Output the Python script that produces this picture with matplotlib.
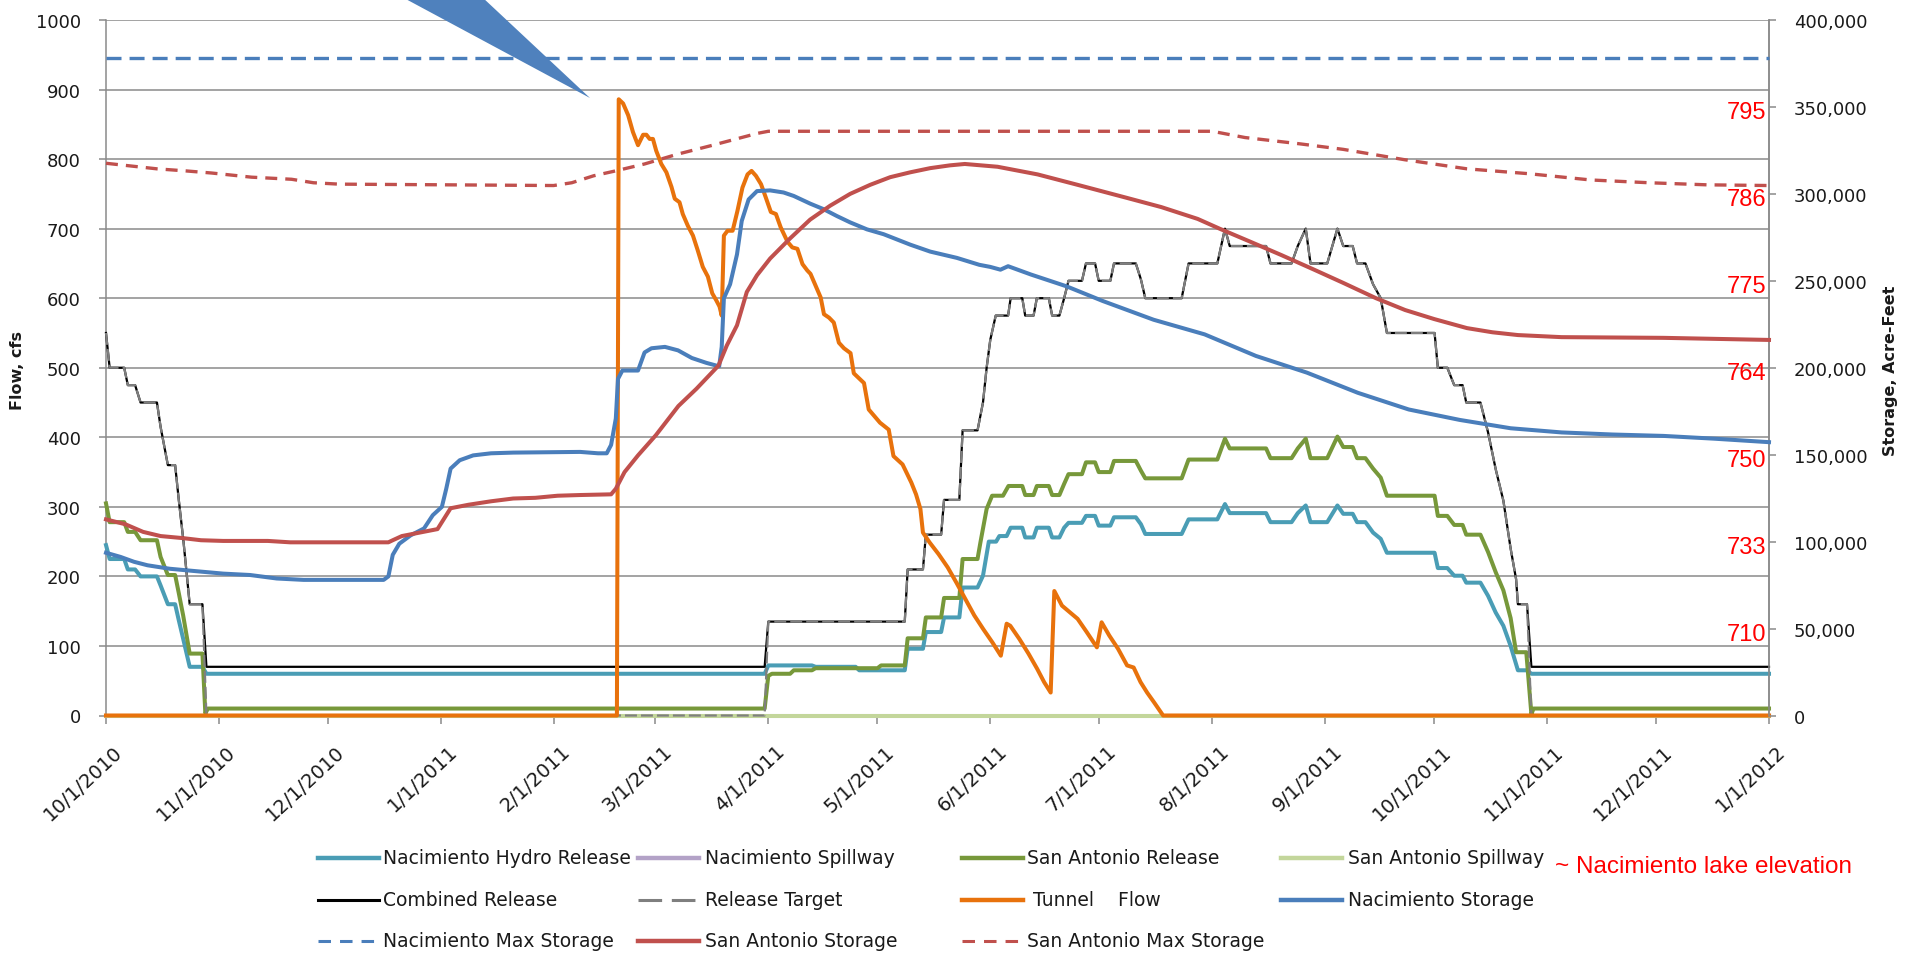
import pandas as pd
import matplotlib
matplotlib.use("Agg")
import matplotlib.pyplot as plt
from matplotlib.lines import Line2D
from matplotlib.patches import Polygon
from matplotlib.ticker import FuncFormatter, MultipleLocator
import matplotlib.transforms as mtransforms

plt.rcParams["lines.scale_dashes"] = False
plt.rcParams["font.family"] = ["DejaVu Sans"]

START = pd.Timestamp("2010-10-01")
END = pd.Timestamp("2012-01-01")

MONTH_LABELS = ["10/1/2010", "11/1/2010", "12/1/2010", "1/1/2011", "2/1/2011",
                "3/1/2011", "4/1/2011", "5/1/2011", "6/1/2011", "7/1/2011",
                "8/1/2011", "9/1/2011", "10/1/2011", "11/1/2011", "12/1/2011",
                "1/1/2012"]

# --- flows (cfs), vertices as (days since 10/1/2010, value) ---
NACI_HYDRO = [(0, 245), (1, 225), (5, 225), (6, 210), (8, 210), (9.5, 200), (14, 200), (15, 187),
              (17, 160), (19, 160), (20, 137), (21.4, 106), (23, 70), (26.5, 70), (27.6, 60),
              (181, 60), (182, 72), (194, 72), (195, 70), (206, 70), (207, 65), (219.5, 65),
              (220.3, 96), (224.5, 96), (225.3, 120), (229.5, 120), (230.3, 141), (234.5, 141),
              (235.4, 184), (239.5, 184), (241, 201), (242.6, 250), (244.6, 250), (245.5, 258),
              (247.5, 258), (248.6, 270), (251.8, 270), (252.6, 256), (254.9, 256), (255.8, 270),
              (259.1, 270), (260, 256), (262, 256), (263.3, 270), (264.5, 277), (268.2, 277),
              (269.3, 287), (271.8, 287), (272.8, 273), (276, 273), (277, 285), (283, 285),
              (284.4, 275), (285.6, 261), (295.6, 261), (297.5, 282), (305.4, 282), (307.5, 304),
              (308.8, 291), (318.8, 291), (320, 278), (325.8, 278), (327.5, 291), (329.7, 302),
              (331, 278), (335.6, 278), (338.4, 302), (340, 290), (342.6, 290), (343.8, 278),
              (346.1, 278), (348.2, 263), (350.3, 254), (352, 234), (365.1, 234), (366, 212),
              (368.6, 212), (370.5, 201), (372.8, 201), (373.8, 191), (377.7, 191), (379.8, 172),
              (381.9, 148), (384, 129), (386, 100), (388, 65), (390.5, 65), (391.7, 60), (457, 60)]

NACI_SPILL = [(0, 0), (457, 0)]

SA_RELEASE = [(0, 305), (1, 278), (5, 278), (6, 264), (8, 264), (9.5, 252), (14, 252), (15, 228),
              (17, 202), (19, 202), (20, 176), (21.2, 144), (23, 89), (26.5, 89), (27.3, 3),
              (28, 10), (181, 10), (182, 57), (183, 60), (188, 60), (189, 65), (194, 65),
              (195, 68), (212, 68), (213, 72), (219.5, 72), (220.3, 111), (224.5, 111),
              (225.3, 141), (229.5, 141), (230.3, 169), (234.5, 169), (235.4, 225), (239.5, 225),
              (240.3, 249), (242, 297), (243.5, 316), (246.5, 316), (248, 330), (251.8, 330),
              (252.6, 317), (254.9, 317), (255.8, 330), (259.1, 330), (260, 317), (262, 317),
              (263.3, 333), (264.5, 347), (268.2, 347), (269.3, 364), (271.8, 364), (272.8, 350),
              (276, 350), (277, 366), (283, 366), (284.4, 352), (285.6, 341), (295.6, 341),
              (297.5, 368), (305.4, 368), (307.5, 398), (308.8, 384), (318.8, 384), (320, 370),
              (325.8, 370), (327.5, 384), (329.7, 398), (331, 370), (335.6, 370), (338.4, 401),
              (340, 386), (342.6, 386), (343.8, 370), (346.1, 370), (348.2, 355), (350.3, 342),
              (352, 316), (365.1, 316), (366, 287), (368.6, 287), (370.5, 274), (372.8, 274),
              (373.8, 260), (377.7, 260), (379.8, 235), (381.9, 206), (384, 180), (386, 140),
              (387.5, 91), (390.3, 91), (391.7, 2), (392.3, 10), (457, 10)]

SA_SPILL = [(0, 0), (457, 0)]

COMBINED = [(0, 550), (1, 500), (5, 500), (6, 475), (8, 475), (9.5, 450), (14, 450), (15, 415),
            (17, 360), (19, 360), (20, 310), (21.3, 250), (23, 160), (26.5, 160), (27.6, 70),
            (181, 70), (182, 135), (219.5, 135), (220.3, 210), (224.5, 210), (225.3, 260),
            (229.5, 260), (230.3, 310), (234.5, 310), (235.4, 410), (239.5, 410), (241, 450),
            (242, 500), (243, 540), (244.5, 575), (247.9, 575), (248.6, 600), (251.8, 600),
            (252.6, 575), (254.9, 575), (255.8, 600), (259.1, 600), (260, 575), (262, 575),
            (263.3, 600), (264.5, 625), (268.2, 625), (269.3, 650), (271.8, 650), (272.8, 625),
            (276, 625), (277, 650), (283, 650), (284.4, 627), (285.6, 600), (295.6, 600),
            (297.5, 650), (305.4, 650), (307.5, 700), (308.8, 675), (318.8, 675), (320, 650),
            (325.8, 650), (327.5, 675), (329.7, 700), (331, 650), (335.6, 650), (338.4, 700),
            (340, 675), (342.6, 675), (343.8, 650), (346.1, 650), (348.2, 620), (350.3, 600),
            (352, 550), (365.1, 550), (366, 500), (368.6, 500), (370.5, 475), (372.8, 475),
            (373.8, 450), (377.7, 450), (379.8, 407), (381.9, 354), (384, 309), (386, 240),
            (387.5, 196), (388, 160), (390.5, 160), (391.7, 70), (457, 70)]

RELEASE_TARGET = [(0, 550), (1, 500), (5, 500), (6, 475), (8, 475), (9.5, 450), (14, 450),
                  (15, 415), (17, 360), (19, 360), (20, 310), (21.3, 250), (23, 160), (26.5, 160),
                  (27.6, 0), (181, 0), (182, 135), (219.5, 135), (220.3, 210), (224.5, 210),
                  (225.3, 260), (229.5, 260), (230.3, 310), (234.5, 310), (235.4, 410),
                  (239.5, 410), (241, 450), (242, 500), (243, 540), (244.5, 575), (247.9, 575),
                  (248.6, 600), (251.8, 600), (252.6, 575), (254.9, 575), (255.8, 600),
                  (259.1, 600), (260, 575), (262, 575), (263.3, 600), (264.5, 625), (268.2, 625),
                  (269.3, 650), (271.8, 650), (272.8, 625), (276, 625), (277, 650), (283, 650),
                  (284.4, 627), (285.6, 600), (295.6, 600), (297.5, 650), (305.4, 650),
                  (307.5, 700), (308.8, 675), (318.8, 675), (320, 650), (325.8, 650),
                  (327.5, 675), (329.7, 700), (331, 650), (335.6, 650), (338.4, 700), (340, 675),
                  (342.6, 675), (343.8, 650), (346.1, 650), (348.2, 620), (350.3, 600),
                  (352, 550), (365.1, 550), (366, 500), (368.6, 500), (370.5, 475),
                  (372.8, 475), (373.8, 450), (377.7, 450), (379.8, 407), (381.9, 354),
                  (384, 309), (386, 240), (387.5, 196), (388, 160), (390.5, 160), (391.7, 0),
                  (457, 0)]

TUNNEL = [(0, 0), (140.4, 0), (140.9, 886), (142.1, 880), (143.5, 863), (144.8, 839),
          (146.2, 820), (147.6, 835), (148.5, 835), (149.4, 829), (150.3, 829), (151.2, 812),
          (152.6, 793), (154, 781), (155.4, 760), (156.3, 743), (157.6, 738), (158.5, 721),
          (159.9, 704), (161.3, 690), (162.6, 669), (164, 645), (165.4, 631), (166.6, 607),
          (167.7, 597), (168.6, 588), (169.2, 575), (169.8, 690), (170.8, 697), (172.2, 697),
          (173.5, 725), (174.9, 759), (176.3, 778), (177.4, 783), (178.6, 776), (180, 764),
          (181.3, 745), (182.7, 724), (184.1, 721), (185.4, 702), (187.3, 681), (188.6, 673),
          (190, 671), (191.4, 649), (192.7, 640), (193.6, 635), (195, 618), (196.4, 601),
          (197.3, 577), (198.7, 572), (200, 565), (201.4, 536), (202.8, 528), (204.6, 521),
          (205.5, 492), (206.9, 485), (208.3, 478), (209.6, 440), (212.7, 421), (215.1, 411),
          (216.4, 373), (218.9, 361), (221.3, 335), (222.6, 318), (223.8, 297), (224.5, 263),
          (226.3, 249), (228.8, 232), (231.3, 213), (233.7, 191), (236.2, 167), (238.6, 144),
          (241.1, 124), (243.6, 105), (245.9, 86), (247.5, 132), (248.5, 129), (251, 110),
          (253.5, 89), (255.9, 67), (257.8, 48), (259.6, 33), (260.6, 179), (262.7, 158),
          (267, 139), (269.5, 120), (272.3, 98), (273.6, 134), (275.7, 115), (278.1, 96),
          (280.6, 72), (282.4, 69), (284.3, 48), (286.1, 33), (288, 19), (290.5, 0), (457, 0)]

# --- storage (acre-feet) ---
NACI_STORAGE = [(0, 93600), (4, 91200), (7.7, 88400), (11.4, 86400), (17.5, 84400), (23.7, 83200),
                (32.2, 81600), (39.6, 80800), (46.9, 78800), (54.3, 78000), (76.3, 78000),
                (77.6, 80000), (78.8, 92400), (80.6, 98800), (83.7, 103600), (87.4, 107600),
                (89.8, 115200), (92.3, 120000), (93.5, 130400), (94.7, 142000), (97.2, 146800),
                (100.9, 149600), (105.8, 150800), (111.9, 151200), (130.3, 151600),
                (135.2, 150800), (137.6, 150800), (138.8, 155600), (140.1, 170800),
                (140.7, 193600), (141.9, 198400), (146.2, 198400), (148, 208800), (149.9, 211200),
                (153.6, 212000), (157.2, 210000), (161, 205600), (165, 202800), (168.5, 200800),
                (169.2, 212000), (169.8, 240000), (171.5, 248000), (173.4, 265200),
                (174.7, 284400), (176.6, 296800), (178.9, 301600), (182.5, 302000),
                (186.2, 300800), (189, 298800), (193.5, 294400), (197.2, 291200),
                (200.9, 287200), (204.5, 283600), (209.1, 279600), (213.7, 276800),
                (221, 270800), (226.5, 266800), (233.8, 263200), (240, 259200), (243, 258000),
                (245.8, 256400), (247.9, 258400), (254.2, 253600), (264, 246800),
                (273.9, 238400), (287.9, 227600), (301.9, 219200), (316, 206800), (330, 197200),
                (344, 185600), (358, 176000), (372, 170000), (386, 165200), (400, 162800),
                (414, 161600), (428, 160800), (442, 159200), (457, 157200)]

NACI_MAX_STORAGE = [(0, 377900), (457, 377900)]

SA_STORAGE = [(0, 112800), (5.3, 110000), (10.2, 105600), (15, 103200), (21.2, 102000),
              (26.1, 100800), (32.2, 100400), (44.5, 100400), (50.6, 99600), (77.6, 99600),
              (78.8, 100800), (81.3, 103200), (86.2, 105200), (91.1, 107200), (92.9, 113200),
              (94.7, 119200), (99.6, 121200), (105.8, 123200), (111.9, 124800), (118, 125200),
              (124.1, 126400), (130.3, 126800), (138.8, 127200), (140.1, 130400),
              (142.5, 140000), (146.2, 149600), (151.1, 161200), (157.3, 178000),
              (162.3, 188000), (168.3, 201200), (170.6, 212800), (173.4, 224400),
              (176.1, 243600), (178.9, 253200), (182.5, 262800), (188, 274400), (193.5, 285200),
              (199, 293200), (204.5, 300000), (210, 305200), (215.5, 309600), (221, 312400),
              (226.5, 314800), (231.9, 316400), (236, 317200), (245, 315600), (256, 311200),
              (267, 305200), (280, 298000), (290, 292400), (300, 285600), (306, 280000),
              (315, 272000), (323, 264800), (332, 256400), (340, 248800), (349, 240000),
              (357, 233200), (365, 228000), (374, 222800), (381, 220400), (388, 218800),
              (400, 217600), (428, 217200), (457, 216000)]

SA_MAX_STORAGE = [(0, 317600), (7, 316000), (14, 314400), (22, 313200), (29, 312000),
                  (40, 309600), (51, 308400), (57, 306400), (64, 305600), (94, 305200),
                  (123, 304800), (128, 306400), (134, 310400), (140, 313200), (148, 317200),
                  (157, 322800), (166, 327600), (179, 334800), (182, 336000), (304, 336000),
                  (313, 332400), (328, 328800), (340, 325600), (357, 319600), (374, 314400),
                  (391, 311600), (408, 308000), (424, 306400), (440, 305200), (457, 304800)]

# Nacimiento lake elevation (ft) at storage gridlines
ELEV_STORAGE = [350000, 300000, 250000, 200000, 150000, 100000, 50000]
ELEV_LABELS = ["795", "786", "775", "764", "750", "733", "710"]

# colours
C_TEAL = "#4A9DB5"
C_PURPLE = "#B3A2C7"
C_GREEN = "#77983A"
C_LGREEN = "#C3D69B"
C_BLACK = "#000000"
C_GRAY = "#7F7F7F"
C_ORANGE = "#E8720C"
C_BLUE = "#4A7EBB"
C_RED = "#C0504D"
C_GRID = "#8A8A8A"
C_TEXT = "#1A1A1A"

W, H = 1916, 954
fig = plt.figure(figsize=(W / 100, H / 100), dpi=100)


def fx(px):
    return px / W


def fy(py):
    return 1 - py / H


def xy(pairs):
    days = [p[0] for p in pairs]
    vals = [p[1] for p in pairs]
    dates = START + pd.to_timedelta(days, unit="D")
    return dates, vals


L, R, T, B = 106, 1769, 21, 716.5
ax = fig.add_axes([fx(L), fy(B), (R - L) / W, (B - T) / H])
ax2 = ax.twinx()

thick = 2.9
series_primary = [
    (NACI_HYDRO, dict(color=C_TEAL, lw=thick)),
    (NACI_SPILL, dict(color=C_PURPLE, lw=thick)),
    (SA_RELEASE, dict(color=C_GREEN, lw=thick)),
    (SA_SPILL, dict(color=C_LGREEN, lw=thick)),
    (COMBINED, dict(color=C_BLACK, lw=1.6)),
    (RELEASE_TARGET, dict(color=C_GRAY, lw=1.6, dashes=(8.6, 2.9))),
    (TUNNEL, dict(color=C_ORANGE, lw=thick)),
]
for z, (pairs, kw) in enumerate(series_primary):
    d, v = xy(pairs)
    ax.plot(d, v, clip_on=False, zorder=3 + z * 0.1, **kw)

series_secondary = [
    (NACI_STORAGE, dict(color=C_BLUE, lw=thick)),
    (NACI_MAX_STORAGE, dict(color=C_BLUE, lw=2.4, dashes=(10.8, 5.8))),
    (SA_STORAGE, dict(color=C_RED, lw=thick)),
    (SA_MAX_STORAGE, dict(color=C_RED, lw=2.4, dashes=(8.6, 5.8))),
]
for z, (pairs, kw) in enumerate(series_secondary):
    d, v = xy(pairs)
    ax2.plot(d, v, clip_on=False, zorder=3 + z * 0.1, **kw)

# axes ranges and ticks
ax.set_xlim(START, END)
ax.set_ylim(0, 1000)
ax2.set_ylim(0, 400000)
ax.yaxis.set_major_locator(MultipleLocator(100))
ax2.yaxis.set_major_locator(MultipleLocator(50000))
ax2.yaxis.set_major_formatter(FuncFormatter(lambda v, p: f"{v:,.0f}"))

tick_dates = pd.date_range(START, END, freq="MS")
ax.set_xticks(tick_dates)
ax.set_xticklabels(MONTH_LABELS, rotation=43, ha="right", va="center",
                   rotation_mode="anchor")

ax.set_axisbelow(True)
ax.grid(axis="y", color=C_GRID, lw=1.1)
ax.grid(axis="x", visible=False)

ax.spines["top"].set_visible(False)
ax2.spines["top"].set_visible(False)
for s in ["left", "bottom", "right"]:
    ax.spines[s].set_color(C_GRID)
    ax.spines[s].set_linewidth(1.1)
    ax2.spines[s].set_color(C_GRID)
    ax2.spines[s].set_linewidth(1.1)
ax2.spines["left"].set_visible(False)
ax2.spines["bottom"].set_visible(False)

ax.tick_params(axis="y", direction="out", length=5, width=1.1, color=C_GRID,
               labelsize=13, labelcolor=C_TEXT, pad=13)
ax2.tick_params(axis="y", direction="out", length=5, width=1.1, color=C_GRID,
                labelsize=13, labelcolor=C_TEXT, pad=13)
ax.tick_params(axis="x", direction="out", length=6, width=1.1, color=C_GRID,
               labelsize=14, labelcolor=C_TEXT, pad=4)
for lab in ax.get_xticklabels():
    lab.set_transform(lab.get_transform() +
                      mtransforms.ScaledTranslation(14 / 100, -19 / 100, fig.dpi_scale_trans))

# elevation labels next to the storage axis
for v, lab in zip(ELEV_STORAGE, ELEV_LABELS):
    ax2.annotate(lab, xy=(1, v), xycoords=("axes fraction", "data"),
                 xytext=(-2, -3.6), textcoords="offset points", ha="right", va="center",
                 color="#FF0000", fontsize=17, family=["Liberation Sans", "DejaVu Sans"])

# axis titles
fig.text(fx(18), fy(370), "Flow, cfs", rotation=90, ha="center", va="center",
         fontsize=11.5, fontweight="bold", color=C_TEXT)
fig.text(fx(1890), fy(371), "Storage, Acre-Feet", rotation=90, ha="center", va="center",
         fontsize=11.5, fontweight="bold", color=C_TEXT)

# legend laid out on a fixed 4-column grid
legend_rows = [
    [("Nacimiento Hydro Release", dict(color=C_TEAL, lw=3.2)),
     ("Nacimiento Spillway", dict(color=C_PURPLE, lw=3.2)),
     ("San Antonio Release", dict(color=C_GREEN, lw=3.2)),
     ("San Antonio Spillway", dict(color=C_LGREEN, lw=3.2))],
    [("Combined Release", dict(color=C_BLACK, lw=2.2)),
     ("Release Target", dict(color=C_GRAY, lw=2.2, dashes=(17, 7))),
     (" Tunnel    Flow", dict(color=C_ORANGE, lw=3.2)),
     ("Nacimiento Storage", dict(color=C_BLUE, lw=3.2))],
    [("Nacimiento Max Storage", dict(color=C_BLUE, lw=2.2, dashes=(9, 6.5))),
     ("San Antonio Storage", dict(color=C_RED, lw=3.2)),
     ("San Antonio Max Storage", dict(color=C_RED, lw=2.2, dashes=(9, 6.5)))],
]
row_y = [859, 901, 942]
col_line_x = [318, 638, 962, 1281]
col_text_x = [383, 705, 1027, 1348]
handle_len = 61
for r, row in enumerate(legend_rows):
    for c, (label, kw) in enumerate(row):
        x0 = col_line_x[c]
        fig.add_artist(Line2D([fx(x0), fx(x0 + handle_len)], [fy(row_y[r])] * 2,
                              transform=fig.transFigure, **kw))
        fig.text(fx(col_text_x[c]), fy(row_y[r]), label, ha="left", va="center",
                 fontsize=13.5, color=C_TEXT)

fig.text(fx(1555), fy(867), "~ Nacimiento lake elevation", ha="left", va="center",
         fontsize=17.5, color="#FF0000", family=["Liberation Sans", "DejaVu Sans"])

# callout pointer at the top of the chart
fig.add_artist(Polygon([(fx(402), fy(-2)), (fx(482), fy(-2)), (fx(590), fy(99))],
                       closed=True, transform=fig.transFigure, facecolor="#4F81BD",
                       edgecolor="none", zorder=10))

fig.savefig("out.png", dpi=100)
